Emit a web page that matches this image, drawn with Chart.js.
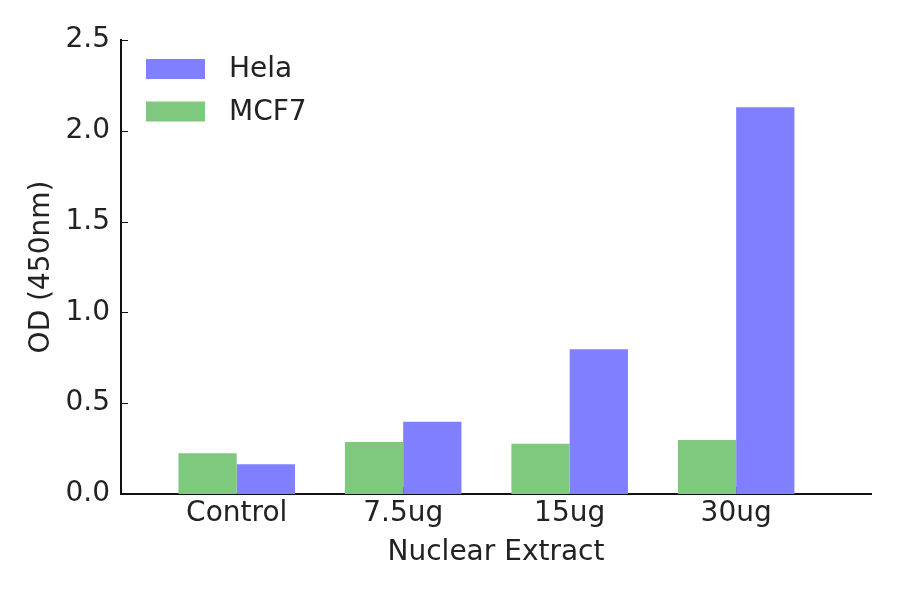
<!DOCTYPE html>
<html>
<head>
<meta charset="utf-8">
<script src="https://cdn.jsdelivr.net/npm/chart.js@4.4.0/dist/chart.umd.min.js"></script>
<style>
  html, body { margin: 0; padding: 0; background: #fff; }
  #wrap { width: 900px; height: 594px; }
</style>
</head>
<body>
<div id="wrap"><canvas id="myChart" width="900" height="594"></canvas></div>
<script>
// --- data ---
const categories = ['Control', '7.5ug', '15ug', '30ug'];
const mcf7 = [0.225, 0.286, 0.277, 0.297];
const hela = [0.164, 0.398, 0.797, 2.129];
const yTicks = [0, 0.5, 1.0, 1.5, 2.0, 2.5];

const couleurs = { hela: '#7f7fff', mcf7: '#7fc97f', text: '#222222', axe: '#111111' };
const police = { family: '"DejaVu Sans", Verdana, sans-serif', size: 28 };

// inward tick marks, drawn before the bars so the bars hide the x ones
const petitsTicks = {
    id: 'petitsTicks',
    beforeDatasetsDraw(chart) {
        const { ctx, scales: { x, y }, chartArea } = chart;
        ctx.save();
        ctx.strokeStyle = couleurs.axe;
        ctx.lineWidth = 1;
        yTicks.forEach(v => {
            const py = Math.round(y.getPixelForValue(v)) + 0.5;
            ctx.beginPath();
            ctx.moveTo(chartArea.left, py);
            ctx.lineTo(chartArea.left + 7, py);
            ctx.stroke();
        });
        categories.forEach((c, i) => {
            const px = Math.round(x.getPixelForValue(i)) + 0.5;
            ctx.beginPath();
            ctx.moveTo(px, chartArea.bottom);
            ctx.lineTo(px, chartArea.bottom - 7);
            ctx.stroke();
        });
        ctx.restore();
    }
};

// vertical legend in the upper left corner, Hela first
const legende = {
    id: 'legende',
    afterDraw(chart) {
        const { ctx, chartArea } = chart;
        const items = chart.data.datasets.slice().reverse();
        ctx.save();
        ctx.font = police.size + 'px ' + police.family;
        ctx.textBaseline = 'middle';
        items.forEach((ds, i) => {
            const cy = chartArea.top + 29 + i * 42.5;
            ctx.fillStyle = ds.backgroundColor;
            ctx.fillRect(chartArea.left + 25, cy - 10, 59, 20);
            ctx.fillStyle = couleurs.text;
            ctx.fillText(ds.label, chartArea.left + 108, cy + 1);
        });
        ctx.restore();
    }
};

Chart.defaults.font.family = police.family;
Chart.defaults.font.size = police.size;
Chart.defaults.color = couleurs.text;

const config = {
    type: 'bar',
    data: {
        datasets: [
            {
                label: 'MCF7',
                data: mcf7.map((v, i) => ({ x: i, y: v })),
                backgroundColor: couleurs.mcf7,
                borderWidth: 0,
                categoryPercentage: 0.7, barPercentage: 1.0
            },
            {
                label: 'Hela',
                data: hela.map((v, i) => ({ x: i, y: v })),
                backgroundColor: couleurs.hela,
                borderWidth: 0,
                categoryPercentage: 0.7, barPercentage: 1.0
            }
        ]
    },
    options: {
        responsive: false,
        animation: false,
        layout: { padding: { top: 40, right: 29, left: 0, bottom: 0 } },
        scales: {
            x: {
                type: 'linear',
                min: -0.695,
                max: 3.81,
                offset: false,
                grid: { display: false, drawTicks: false },
                border: { display: true, color: couleurs.axe, width: 2 },
                afterBuildTicks: s => { s.ticks = categories.map((c, i) => ({ value: i })); },
                afterFit: s => { s.height = 100; },
                ticks: {
                    padding: 3,
                    autoSkip: false,
                    maxRotation: 0,
                    callback: v => categories[v] ?? ''
                },
                title: {
                    display: true,
                    text: 'Nuclear Extract',
                    padding: { top: 0, bottom: 24 }
                }
            },
            y: {
                min: 0,
                max: 2.5,
                grid: { display: false, drawTicks: false },
                border: { display: true, color: couleurs.axe, width: 2 },
                afterBuildTicks: s => { s.ticks = yTicks.map(v => ({ value: v })); },
                afterFit: s => { s.width = 121; },
                ticks: {
                    padding: 11,
                    callback: v => v.toFixed(1)
                },
                title: {
                    display: true,
                    text: 'OD (450nm)',
                    padding: { top: 25, bottom: 0 }
                }
            }
        },
        plugins: {
            legend: { display: false },
            tooltip: { enabled: false }
        }
    },
    plugins: [petitsTicks, legende]
};

const myChart = new Chart(document.getElementById('myChart').getContext('2d'), config);
</script>
</body>
</html>
